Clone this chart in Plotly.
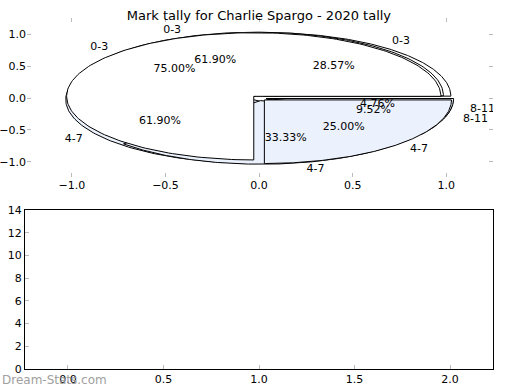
import numpy as np
import plotly.graph_objects as go

# ---- data ----
categories = ["0-3", "4-7", "8-11"]
pie_c_counts = [6, 13, 2]      # 28.57%, 61.90%, 9.52%
pie_b_counts = [13, 7, 1]      # 61.90%, 33.33%, 4.76%
pie_a_counts = [3, 1]          # 75.00%, 25.00%
slice_colors = ["#ffffff", "#ecf2fd", "#ecf2fd"]
title_text = "Mark tally for Charlie Spargo - 2020 tally"
top_ticks = [-1.0, -0.5, 0.0, 0.5, 1.0]
bottom_xticks = [0.0, 0.5, 1.0, 1.5, 2.0]
bottom_yticks = [0, 2, 4, 6, 8, 10, 12, 14]

EXPLODE = 0.04
RADIUS = 1.0
FONT = "DejaVu Sans"

fig = go.Figure()


def add_pie(counts):
    total = float(sum(counts))
    start = 0.0
    for i, v in enumerate(counts):
        frac = v / total
        a0 = start
        a1 = start + frac * 360.0
        mid = np.deg2rad((a0 + a1) / 2)
        dx = EXPLODE * np.cos(mid)
        dy = EXPLODE * np.sin(mid)
        th = np.deg2rad(np.linspace(a0, a1, 200))
        xs = np.concatenate([[dx], dx + RADIUS * np.cos(th), [dx]])
        ys = np.concatenate([[dy], dy + RADIUS * np.sin(th), [dy]])
        fig.add_trace(go.Scatter(
            x=xs, y=ys, mode="lines", fill="toself",
            fillcolor=slice_colors[i], line=dict(color="black", width=1),
            hoverinfo="skip", showlegend=False, xaxis="x", yaxis="y"))
        # labels
        lx = dx + 1.1 * RADIUS * np.cos(mid)
        ly = dy + 1.1 * RADIUS * np.sin(mid)
        texts.append((lx, ly, categories[i],
                      "middle right" if lx > 0 else "middle left"))
        px = dx + 0.6 * RADIUS * np.cos(mid)
        py = dy + 0.6 * RADIUS * np.sin(mid)
        texts.append((px, py, "%.2f%%" % (frac * 100), "middle center"))
        start = a1


texts = []
for counts in (pie_c_counts, pie_b_counts, pie_a_counts):
    add_pie(counts)

for (tx, ty, tt, pos) in texts:
    fig.add_trace(go.Scatter(
        x=[tx], y=[ty], mode="text", text=[tt], textposition=pos,
        textfont=dict(family=FONT, size=11, color="black"),
        hoverinfo="skip", showlegend=False, xaxis="x", yaxis="y"))

# empty bottom chart
fig.add_trace(go.Scatter(x=[], y=[], mode="markers", showlegend=False,
                         xaxis="x2", yaxis="y2"))

tickfont = dict(family=FONT, size=11, color="black")
neg_labels = ["\u22121.0", "\u22120.5", "0.0", "0.5", "1.0"]

fig.update_layout(
    width=520, height=390,
    margin=dict(l=0, r=0, t=0, b=0, autoexpand=False),
    paper_bgcolor="white", plot_bgcolor="white",
    hovermode=False,
    title=dict(text=title_text, x=0.498, xanchor="center", y=1 - 15 / 390,
               yanchor="middle", font=dict(family=FONT, size=13, color="black")),
    xaxis=dict(domain=[27 / 520, 493 / 520], range=[-1.24, 1.25],
               tickvals=top_ticks, ticktext=neg_labels,
               showgrid=False, zeroline=False, showline=False, automargin=False,
               ticks="inside", ticklen=4, tickcolor="#bbbbbb", mirror="ticks",
               tickfont=tickfont, anchor="y"),
    yaxis=dict(domain=[1 - 177 / 390, 1 - 18 / 390], range=[-1.24, 1.26],
               tickvals=top_ticks, ticktext=neg_labels,
               showgrid=False, zeroline=False, showline=False, automargin=False,
               ticks="inside", ticklen=4, tickcolor="#bbbbbb", mirror="ticks",
               tickfont=tickfont, anchor="x"),
    xaxis2=dict(domain=[25 / 520, 493 / 520], range=[-0.225, 2.225],
                tickvals=bottom_xticks, ticktext=["0.0", "0.5", "1.0", "1.5", "2.0"],
                showgrid=False, zeroline=False, showline=True, linecolor="black",
                linewidth=1, mirror=True, automargin=False,
                ticks="inside", ticklen=4, tickcolor="#bbbbbb",
                tickfont=tickfont, anchor="y2"),
    yaxis2=dict(domain=[1 - 369 / 390, 1 - 210 / 390], range=[0, 14],
                tickvals=bottom_yticks,
                showgrid=False, zeroline=False, showline=True, linecolor="black",
                linewidth=1, mirror=True, automargin=False,
                ticks="inside", ticklen=4, tickcolor="#bbbbbb",
                tickfont=tickfont, anchor="x2"),
    annotations=[dict(text="Dream-Stats.com", x=0, y=10 / 390, xref="paper",
                      yref="paper", xanchor="left", yanchor="middle",
                      showarrow=False,
                      font=dict(family=FONT, size=12, color="#a0a0a0"))],
)

fig.write_html(
    "out.html",
    config={"displayModeBar": False, "staticPlot": True},
    post_script="document.body.style.margin='0';document.body.style.padding='0';"
                "document.body.style.overflow='hidden';",
)
